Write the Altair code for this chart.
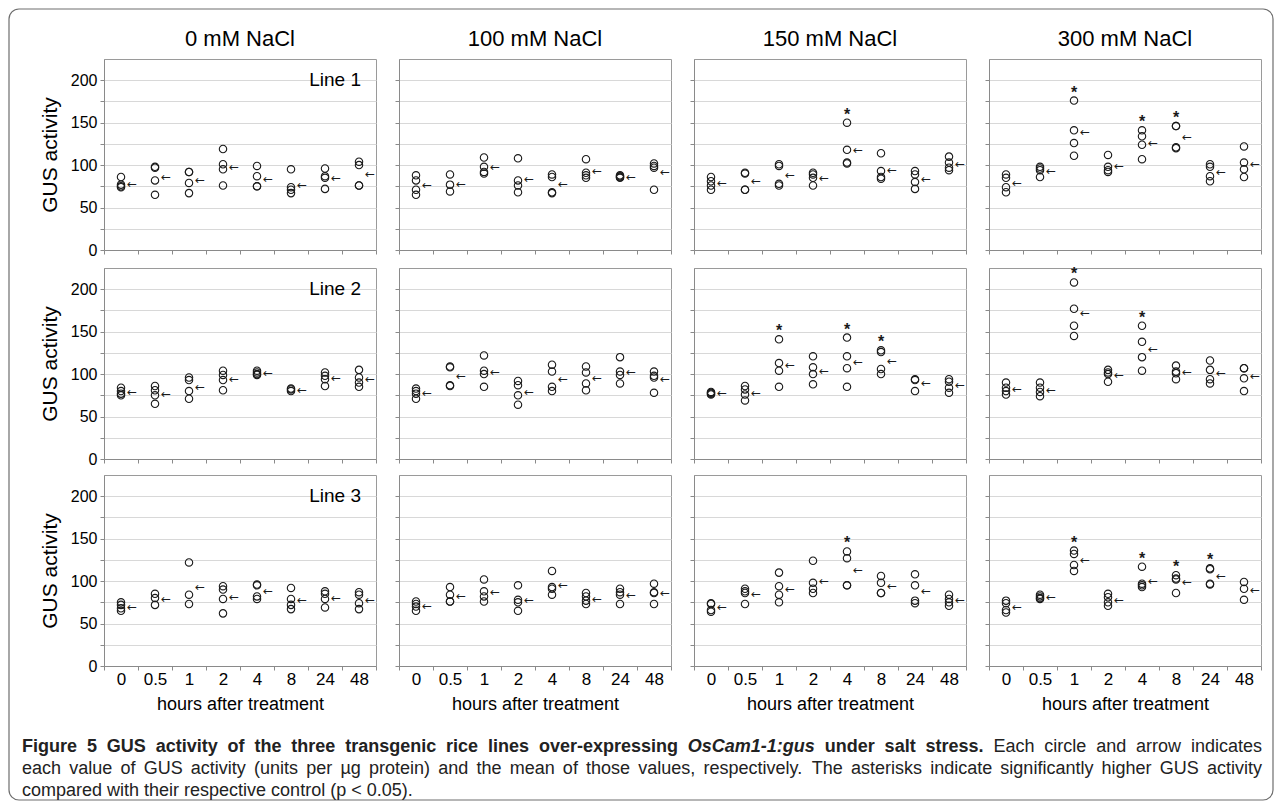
import altair as alt
import pandas as pd

TIMES = ["0", "0.5", "1", "2", "4", "8", "24", "48"]
CONCS = ["0 mM NaCl", "100 mM NaCl", "150 mM NaCl", "300 mM NaCl"]
LINES = ["Line 1", "Line 2", "Line 3"]

# GUS activity values (units per ug protein), one list per time point
L1_C0 = [[86, 77, 75, 74], [98, 97, 82, 65], [92, 92, 79, 67], [119, 101, 95, 76],
         [99, 87, 75, 75], [95, 74, 71, 67], [96, 87, 85, 72], [104, 100, 76, 76]]
L1_C100 = [[88, 82, 71, 65], [89, 77, 69], [109, 98, 92, 90], [108, 82, 76, 68],
           [89, 86, 68, 67], [107, 91, 88, 85], [88, 87, 86, 85], [102, 99, 97, 71]]
L1_C150 = [[86, 81, 76, 71], [91, 90, 71, 71], [101, 99, 78, 76], [91, 89, 85, 76],
           [150, 118, 103, 102], [114, 93, 86, 84], [93, 89, 80, 72], [110, 103, 97, 94]]
L1_C300 = [[89, 85, 74, 68], [98, 96, 94, 86], [176, 141, 126, 111], [112, 98, 94, 92],
           [141, 134, 124, 107], [146, 146, 121, 120], [101, 98, 87, 81], [122, 103, 95, 86]]
L2_C0 = [[84, 80, 77, 75], [86, 81, 75, 65], [96, 93, 80, 71], [104, 99, 93, 81],
         [104, 102, 100, 99], [83, 82, 80], [102, 98, 94, 86], [105, 96, 90, 85]]
L2_C100 = [[83, 80, 77, 71], [109, 108, 87, 86], [122, 104, 100, 85], [92, 87, 75, 64],
           [111, 103, 85, 80], [109, 102, 89, 81], [120, 103, 99, 89], [103, 98, 96, 78]]
L2_C150 = [[79, 78, 77, 76], [86, 82, 76, 69], [141, 113, 104, 85], [121, 108, 100, 88],
           [143, 121, 107, 85], [128, 126, 106, 100], [94, 93, 80], [94, 91, 84, 78]]
L2_C300 = [[90, 84, 80, 76], [90, 84, 79, 74], [208, 177, 157, 145], [105, 102, 100, 91],
           [157, 138, 120, 104], [110, 103, 101, 94], [116, 105, 94, 89], [107, 107, 95, 80]]
L3_C0 = [[75, 72, 68, 65], [85, 80, 72], [122, 84, 73], [94, 90, 79, 62],
         [96, 95, 82, 79], [92, 79, 72, 67], [88, 85, 79, 69], [87, 84, 74, 67]]
L3_C100 = [[76, 73, 70, 65], [93, 84, 76, 76], [102, 88, 82, 76], [95, 78, 75, 65],
           [112, 93, 91, 84], [86, 82, 77, 73], [91, 87, 84, 73], [97, 87, 86, 73]]
L3_C150 = [[74, 73, 66, 64], [91, 88, 86, 73], [110, 94, 84, 75], [124, 98, 91, 86],
           [135, 127, 95, 95], [106, 98, 86, 86], [108, 95, 77, 74], [84, 79, 75, 71]]
L3_C300 = [[77, 74, 66, 63], [84, 82, 80, 79], [136, 132, 119, 112], [85, 81, 75, 71],
           [117, 97, 95, 93], [107, 103, 102, 86], [115, 114, 97, 96], [99, 91, 78]]

SERIES = [[L1_C0, L1_C100, L1_C150, L1_C300],
          [L2_C0, L2_C100, L2_C150, L2_C300],
          [L3_C0, L3_C100, L3_C150, L3_C300]]

# time points marked with an asterisk (significantly higher than control)
STARS = [{"150 mM NaCl": ["4"], "300 mM NaCl": ["1", "4", "8"]},
         {"150 mM NaCl": ["1", "4", "8"], "300 mM NaCl": ["1", "4"]},
         {"150 mM NaCl": ["4"], "300 mM NaCl": ["1", "4", "8", "24"]}]

# caption (justified lines 1-2, line 3 ragged)
CAP1_BOLD = "Figure 5 GUS activity of the three transgenic rice lines over-expressing"
CAP1_ITAL = "OsCam1-1:gus"
CAP1_BOLD2 = "under salt stress."
CAP1_REG = "Each circle and arrow indicates"
CAP_LINE2 = ("each value of GUS activity (units per \u00b5g protein) and the mean of those values, "
             "respectively. The asterisks indicate significantly higher GUS activity")
CAP_LINE3 = "compared with their respective control (p < 0.05)."

rows = []
stars = []
for li, line in enumerate(LINES):
    for ci, conc in enumerate(CONCS):
        for ti, t in enumerate(TIMES):
            vals = SERIES[li][ci][ti]
            for v in vals:
                rows.append({"line": line, "conc": conc, "time": t, "value": v})
            if t in STARS[li].get(conc, []):
                stars.append({"line": line, "conc": conc, "time": t, "value": max(vals)})
df = pd.DataFrame(rows)
sdf = pd.DataFrame(stars)
ONE = pd.DataFrame({"a": [0]})

W, H = 272, 191
GRAY = "#8a8a8a"
GRID = "#d8d8d8"
INK = "#1a1a1a"
NARROW = "Liberation Sans Narrow, Arial Narrow, Liberation Sans, Arial"
SANS = "Liberation Sans, Arial, sans-serif"

xscale = alt.Scale(type="band", domain=TIMES, paddingInner=0, paddingOuter=0)
yscale = alt.Scale(domain=[0, 225], nice=False, zero=True)


def x_enc(last_row):
    ax = dict(labels=last_row, tickBand="extent", grid=False, domainColor=GRAY,
              tickColor=GRAY, tickSize=4, labelAngle=0, labelFont=NARROW,
              labelFontSize=17, labelColor="black", labelPadding=1,
              titleFont=SANS, titleFontSize=18, titleFontWeight="normal",
              titleColor="black", titlePadding=8)
    ax["title"] = "hours after treatment" if last_row else None
    return alt.X("time:N", sort=TIMES, scale=xscale, axis=alt.Axis(**ax))


def y_axis(first_col):
    ax = dict(values=list(range(0, 201, 25)),
              labelExpr="datum.value % 50 == 0 ? datum.label : ''",
              grid=True, gridColor=GRID, gridWidth=1, domainColor=GRAY, tickColor=GRAY,
              tickSize=4, labels=first_col, labelFont=NARROW, labelFontSize=16,
              labelColor="black", labelPadding=3, labelOverlap=False,
              titleFont=NARROW, titleFontSize=21, titleFontWeight="normal",
              titleColor="black", titlePadding=10)
    ax["title"] = "GUS activity" if first_col else None
    return alt.Axis(**ax)


def panel(li, ci):
    line, conc = LINES[li], CONCS[ci]
    sub = df[(df.line == line) & (df.conc == conc)]
    X = x_enc(li == 2)
    YA = y_axis(ci == 0)
    layers = []
    layers.append(alt.Chart(sub).mark_point(shape="circle", filled=False, size=55,
                                            color=INK, strokeWidth=1.1, opacity=1)
                  .encode(x=X, y=alt.Y("value:Q", scale=yscale, axis=YA)))
    layers.append(alt.Chart(sub).mark_text(text="\u2190", dx=11, fontSize=12,
                                           font="DejaVu Sans", color=INK)
                  .encode(x=X, y=alt.Y("mean(value):Q", scale=yscale, axis=YA)))
    ssub = sdf[(sdf.line == line) & (sdf.conc == conc)]
    if len(ssub):
        layers.append(alt.Chart(ssub).mark_text(text="*", fontSize=16, fontWeight="bold",
                                                font=SANS, baseline="alphabetic", dy=-3,
                                                color=INK)
                      .encode(x=X, y=alt.Y("value:Q", scale=yscale, axis=YA)))
    if ci == 0:
        layers.append(alt.Chart(pd.DataFrame({"t": [line]})).mark_text(
            align="right", baseline="middle", font=SANS, fontSize=19, color="black")
            .encode(text="t:N", x=alt.value(W - 15), y=alt.value(21)))
    props = dict(width=W, height=H)
    if li == 0:
        props["title"] = alt.TitleParams(text=conc, font=SANS, fontSize=22,
                                         fontWeight="normal", color="black",
                                         offset=8, anchor="middle")
    return alt.layer(*layers).properties(**props)


grid = alt.vconcat(*[alt.hconcat(*[panel(li, ci) for ci in range(4)], spacing=17)
                     for li in range(3)], spacing=6)

# ---- caption: word placement for justified lines (Liberation Sans = Arial metrics)
_REG = dict(zip("abcdefghijklmnopqrstuvwxyz",
                [556, 556, 500, 556, 556, 278, 556, 556, 222, 222, 500, 222, 833,
                 556, 556, 556, 556, 333, 500, 278, 556, 500, 722, 500, 500, 500]))
_REG.update(dict(zip("ABCDEFGHIJKLMNOPQRSTUVWXYZ",
                     [667, 667, 722, 722, 667, 611, 778, 722, 278, 500, 667, 556, 833,
                      722, 778, 667, 778, 722, 667, 611, 722, 667, 944, 667, 667, 611])))
_REG.update({"(": 333, ")": 333, ",": 278, ".": 278, "-": 333, ":": 278, "<": 584,
             "\u00b5": 576, " ": 278})
_BOLD = dict(zip("abcdefghijklmnopqrstuvwxyz",
                 [556, 611, 556, 611, 556, 333, 611, 611, 278, 278, 556, 278, 889,
                  611, 611, 611, 611, 389, 556, 333, 611, 556, 778, 556, 556, 500]))
_BOLD.update(dict(zip("ABCDEFGHIJKLMNOPQRSTUVWXYZ",
                      [722, 722, 722, 722, 667, 611, 778, 722, 278, 556, 722, 611, 833,
                       722, 778, 667, 778, 722, 667, 611, 722, 667, 944, 667, 667, 611])))
_BOLD.update({"(": 333, ")": 333, ",": 278, ".": 278, "-": 333, ":": 333, "<": 584,
              " ": 278})
CFS = 18
CAP_LEFT, CAP_RIGHT, ORIGIN = 22, 1262, 104


def _w(word, style):
    tab = _REG if style == "regular" else _BOLD
    return sum(tab.get(ch, 556) for ch in word) * CFS / 1000.0


def justify(words, y):
    total = sum(_w(w, s) for w, s in words)
    gap = (CAP_RIGHT - CAP_LEFT - total) / (len(words) - 1)
    out, x = [], CAP_LEFT
    for w, s in words:
        out.append({"word": w, "style": s, "px": x - ORIGIN, "py": y})
        x += _w(w, s) + gap
    return out


line1 = ([(w, "bold") for w in CAP1_BOLD.split()] + [(CAP1_ITAL, "bolditalic")]
         + [(w, "bold") for w in CAP1_BOLD2.split()] + [(w, "regular") for w in CAP1_REG.split()])
line2 = [(w, "regular") for w in CAP_LINE2.split()]
cap_rows = justify(line1, 21) + justify(line2, 43)
cap_rows.append({"word": CAP_LINE3, "style": "regular", "px": CAP_LEFT - ORIGIN, "py": 65})
cap_df = pd.DataFrame(cap_rows)

STYLE = {"bold": ("bold", "normal"), "bolditalic": ("bold", "italic"),
         "regular": ("normal", "normal")}
cap_layers = []
for st, (fw, fs) in STYLE.items():
    cap_layers.append(
        alt.Chart(cap_df).transform_filter(alt.datum.style == st)
        .mark_text(align="left", baseline="alphabetic", font=SANS, fontSize=CFS,
                   fontWeight=fw, fontStyle=fs, color="#222222")
        .encode(x=alt.X("px:Q", scale=None), y=alt.Y("py:Q", scale=None), text="word:N"))

# caption view origin is aligned with the first panel's plot origin (page x 104)
frame = alt.Chart(ONE).mark_rect(fillOpacity=0, stroke="#6e6e6e", strokeWidth=1.2,
                                 cornerRadius=10).encode(
    x=alt.value(-95), x2=alt.value(1169), y=alt.value(-722), y2=alt.value(69))

cap = alt.layer(frame, *cap_layers).properties(
    width=1160, height=69, view=alt.ViewBackground(strokeOpacity=0))

chart = alt.vconcat(grid, cap, spacing=-706).properties(padding=8).configure_view(
    stroke="#9a9a9a", strokeWidth=1)

chart.save("out.html", embed_options={"renderer": "svg", "actions": False})
